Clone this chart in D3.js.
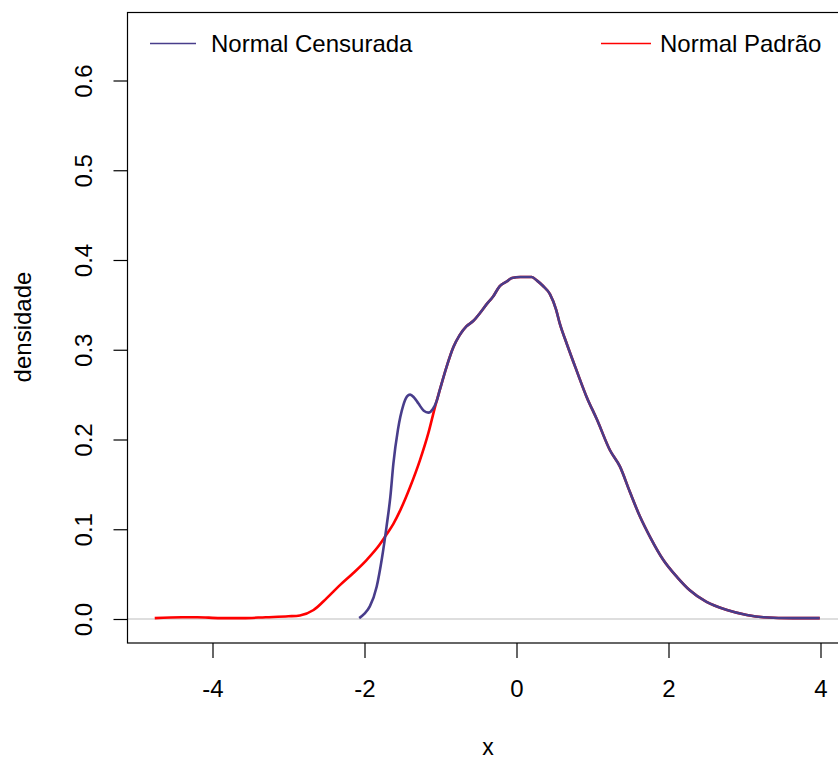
<!DOCTYPE html>
<html>
<head>
<meta charset="utf-8">
<script src="https://cdn.jsdelivr.net/npm/d3@7"></script>
<style>
  html, body { margin: 0; padding: 0; background: #fff; }
  svg { display: block; }
  text { font-family: "Liberation Sans", Arial, sans-serif; fill: #000; }
</style>
</head>
<body>
<svg id="chart" width="838" height="760"></svg>
<script>
// ---- data ----
const seriesNames = ["Normal Censurada", "Normal Padrão"];
const seriesColors = ["#483D8B", "#FF0000"];

const padraoX = [-4.76, -4.4, -4.2, -3.9, -3.6, -3.3, -3.0, -2.85, -2.67, -2.50, -2.32, -2.15, -1.97, -1.80, -1.72, -1.62, -1.53, -1.40, -1.27, -1.16, -1.07, -1.01, -0.92, -0.83, -0.75, -0.66, -0.57, -0.48, -0.40, -0.31, -0.22, -0.13, -0.06, 0.05, 0.20, 0.27, 0.35, 0.44, 0.52, 0.57, 0.66, 0.79, 0.92, 1.06, 1.23, 1.36, 1.49, 1.62, 1.76, 1.93, 2.11, 2.28, 2.50, 2.77, 3.03, 3.25, 3.64, 3.99];
const padraoY = [0.001, 0.002, 0.002, 0.001, 0.001, 0.002, 0.003, 0.004, 0.010, 0.023, 0.038, 0.051, 0.066, 0.083, 0.093, 0.106, 0.121, 0.147, 0.177, 0.207, 0.237, 0.255, 0.281, 0.303, 0.316, 0.326, 0.332, 0.341, 0.350, 0.359, 0.371, 0.376, 0.380, 0.381, 0.381, 0.377, 0.371, 0.362, 0.345, 0.329, 0.307, 0.277, 0.248, 0.222, 0.188, 0.170, 0.142, 0.115, 0.091, 0.066, 0.047, 0.032, 0.019, 0.010, 0.0045, 0.002, 0.001, 0.001];

const censX = [-2.07, -2.0, -1.93, -1.84, -1.77, -1.71, -1.66, -1.62, -1.56, -1.49, -1.44, -1.40, -1.35, -1.29, -1.22, -1.16, -1.10, -1.05, -1.01, -0.92, -0.83, -0.75, -0.66, -0.57, -0.48, -0.40, -0.31, -0.22, -0.13, -0.06, 0.05, 0.20, 0.27, 0.35, 0.44, 0.52, 0.57, 0.66, 0.79, 0.92, 1.06, 1.23, 1.36, 1.49, 1.62, 1.76, 1.93, 2.11, 2.28, 2.50, 2.77, 3.03, 3.25, 3.64, 3.99];
const censY = [0.001, 0.006, 0.014, 0.036, 0.068, 0.103, 0.136, 0.173, 0.211, 0.238, 0.248, 0.250, 0.247, 0.240, 0.232, 0.230, 0.234, 0.243, 0.255, 0.281, 0.303, 0.316, 0.326, 0.332, 0.341, 0.350, 0.359, 0.371, 0.376, 0.380, 0.381, 0.381, 0.377, 0.371, 0.362, 0.345, 0.329, 0.307, 0.277, 0.248, 0.222, 0.188, 0.170, 0.142, 0.115, 0.091, 0.066, 0.047, 0.032, 0.019, 0.010, 0.0045, 0.002, 0.001, 0.001];

const xTicks = [-4, -2, 0, 2, 4];
const yTicks = [0.0, 0.1, 0.2, 0.3, 0.4, 0.5, 0.6];
const xLabel = "x";
const yLabel = "densidade";

// ---- layout ----
const svg = d3.select("#chart");
const box = { left: 127.5, right: 847, top: 12.5, bottom: 643 };

const x = d3.scaleLinear().domain([0, 4]).range([516.5, 820.5]);
x.domain([x.invert(box.left), x.invert(box.right)]).range([box.left, box.right]);
const y = d3.scaleLinear().domain([0, 0.6]).range([619, 80.5]);
y.domain([y.invert(box.bottom), y.invert(box.top)]).range([box.bottom, box.top]);

// baseline at zero (gray)
svg.append("line")
  .attr("x1", box.left).attr("x2", box.right)
  .attr("y1", y(0)).attr("y2", y(0))
  .attr("stroke", "#BEBEBE").attr("stroke-width", 1.2);

const line = d3.line().x(d => x(d[0])).y(d => y(d[1])).curve(d3.curveMonotoneX);

const padData = padraoX.map((v, i) => [v, padraoY[i]]);
const censData = censX.map((v, i) => [v, censY[i]]);

svg.append("path").datum(padData)
  .attr("d", line).attr("fill", "none")
  .attr("stroke", seriesColors[1]).attr("stroke-width", 2.6)
  .attr("stroke-linejoin", "round");
svg.append("path").datum(censData)
  .attr("d", line).attr("fill", "none")
  .attr("stroke", seriesColors[0]).attr("stroke-width", 2.6)
  .attr("stroke-linejoin", "round");

// box
svg.append("rect")
  .attr("x", box.left).attr("y", box.top)
  .attr("width", box.right - box.left).attr("height", box.bottom - box.top)
  .attr("fill", "none").attr("stroke", "#000").attr("stroke-width", 1.2);

// x axis
const xAxis = d3.axisBottom(x).tickValues(xTicks).tickSize(15).tickSizeOuter(0)
  .tickFormat(d => d3.format("d")(d).replace("−", "-"));
const gx = svg.append("g").attr("transform", `translate(0,${box.bottom})`).call(xAxis);
gx.select(".domain").remove();
gx.selectAll(".tick line").attr("stroke", "#000").attr("stroke-width", 1.2);
gx.selectAll(".tick text").attr("font-size", 24).attr("dy", null).attr("y", 54)
  .style("font-family", "'Liberation Sans', Arial, sans-serif").attr("fill", "#000");

// y axis
const yAxis = d3.axisLeft(y).tickValues(yTicks).tickSize(14).tickSizeOuter(0)
  .tickFormat(d3.format(".1f"));
const gy = svg.append("g").attr("transform", `translate(${box.left},0)`).call(yAxis);
gy.select(".domain").remove();
gy.selectAll(".tick line").attr("stroke", "#000").attr("stroke-width", 1.2);
gy.selectAll(".tick text")
  .attr("x", null).attr("dy", null)
  .attr("text-anchor", "middle")
  .attr("transform", "translate(-36,0) rotate(-90)")
  .attr("y", 0)
  .attr("font-size", 24)
  .style("font-family", "'Liberation Sans', Arial, sans-serif").attr("fill", "#000");

// axis titles
svg.append("text").attr("x", 488).attr("y", 755).attr("text-anchor", "middle")
  .attr("font-size", 23).text(xLabel);
svg.append("text").attr("transform", "translate(31,327) rotate(-90)")
  .attr("text-anchor", "middle").attr("font-size", 24).text(yLabel);

// legends
const legendItems = [
  { name: seriesNames[0], color: seriesColors[0], x1: 150, x2: 196, tx: 211 },
  { name: seriesNames[1], color: seriesColors[1], x1: 601, x2: 651, tx: 660 }
];
const lg = svg.append("g");
legendItems.forEach(it => {
  lg.append("line").attr("x1", it.x1).attr("x2", it.x2).attr("y1", 43.5).attr("y2", 43.5)
    .attr("stroke", it.color).attr("stroke-width", 1.5);
  lg.append("text").attr("x", it.tx).attr("y", 52).attr("font-size", 24).text(it.name);
});
</script>
</body>
</html>
